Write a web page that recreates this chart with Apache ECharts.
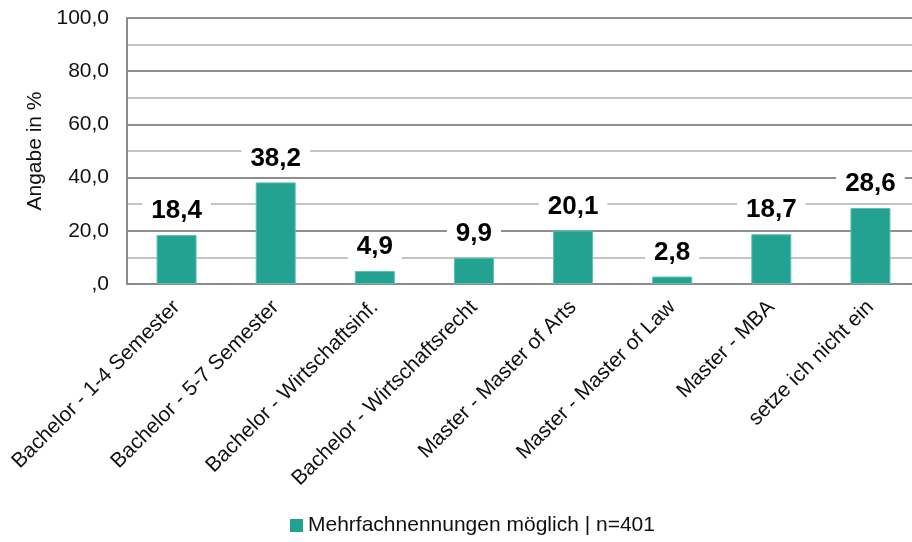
<!DOCTYPE html>
<html lang="de">
<head>
    <meta charset="UTF-8">
    <title>Angabe in %</title>
    <script src="https://cdn.jsdelivr.net/npm/echarts@6/dist/echarts.min.js"></script>
    <style>
        html, body { margin: 0; padding: 0; background: #fff; }
    </style>
</head>
<body>
    <div id="myChart" style="width: 912px; height: 542px;"></div>

    <script>
        // Kategorien und Werte
        var categories = [
            'Bachelor - 1-4 Semester',
            'Bachelor - 5-7 Semester',
            'Bachelor - Wirtschaftsinf.',
            'Bachelor - Wirtschaftsrecht',
            'Master - Master of Arts',
            'Master - Master of Law',
            'Master - MBA',
            'setze ich nicht ein'
        ];
        var values = [18.4, 38.2, 4.9, 9.9, 20.1, 2.8, 18.7, 28.6];
        var seriesName = 'Mehrfachnennungen möglich | n=401';
        var yTitle = 'Angabe in %';

        var FONT = 'Liberation Sans, Arial, sans-serif';

        // deutsches Zahlenformat, 0 -> ",0"
        function fmt(v) {
            if (v === 0) return ',0';
            return v.toFixed(1).replace('.', ',');
        }

        var myChart = echarts.init(document.getElementById('myChart'));

        var option = {
            animation: false,
            // Plotfläche läuft rechts etwas über den Rand hinaus (wie im Original)
            grid: { left: 127, top: 18, bottom: 258, width: 793, outerBoundsMode: 'none', containLabel: false },
            legend: {
                left: 285,
                bottom: 1,
                icon: 'rect',
                itemWidth: 13,
                itemHeight: 13,
                itemGap: 3,
                itemStyle: { borderWidth: 0 },
                textStyle: { fontFamily: FONT, fontSize: 21, color: '#111' },
                data: [seriesName]
            },
            xAxis: {
                type: 'category',
                data: categories,
                axisLine: { lineStyle: { color: '#8c8c8c', width: 2 } },
                axisTick: { show: false },
                axisLabel: {
                    rotate: 45,
                    margin: 20,
                    interval: 0,
                    fontFamily: FONT,
                    fontSize: 21,
                    color: '#111'
                }
            },
            yAxis: {
                type: 'value',
                min: 0,
                max: 100,
                interval: 20,
                name: yTitle,
                nameLocation: 'middle',
                nameGap: 80,
                nameTextStyle: { fontFamily: FONT, fontSize: 21, color: '#111' },
                axisLine: { show: true, lineStyle: { color: '#8c8c8c', width: 2 } },
                axisTick: { show: false },
                axisLabel: {
                    margin: 18,
                    fontFamily: FONT,
                    fontSize: 21,
                    color: '#111',
                    formatter: fmt
                },
                splitLine: { lineStyle: { color: '#8f8f8f', width: 2 } },
                minorTick: { show: false, splitNumber: 2 },
                minorSplitLine: { show: true, lineStyle: { color: '#c4c4c4', width: 2 } }
            },
            series: [{
                name: seriesName,
                type: 'bar',
                data: values,
                barWidth: 40,
                itemStyle: { color: '#24a291', borderColor: '#5cc0b2', borderWidth: 1 },
                label: {
                    show: true,
                    position: 'top',
                    distance: 9,
                    fontFamily: FONT,
                    fontSize: 26,
                    fontWeight: 'bold',
                    color: '#000',
                    backgroundColor: '#fff',
                    padding: [2, 9],
                    formatter: function (p) { return fmt(p.value); }
                }
            }]
        };

        myChart.setOption(option);
    </script>
</body>
</html>
